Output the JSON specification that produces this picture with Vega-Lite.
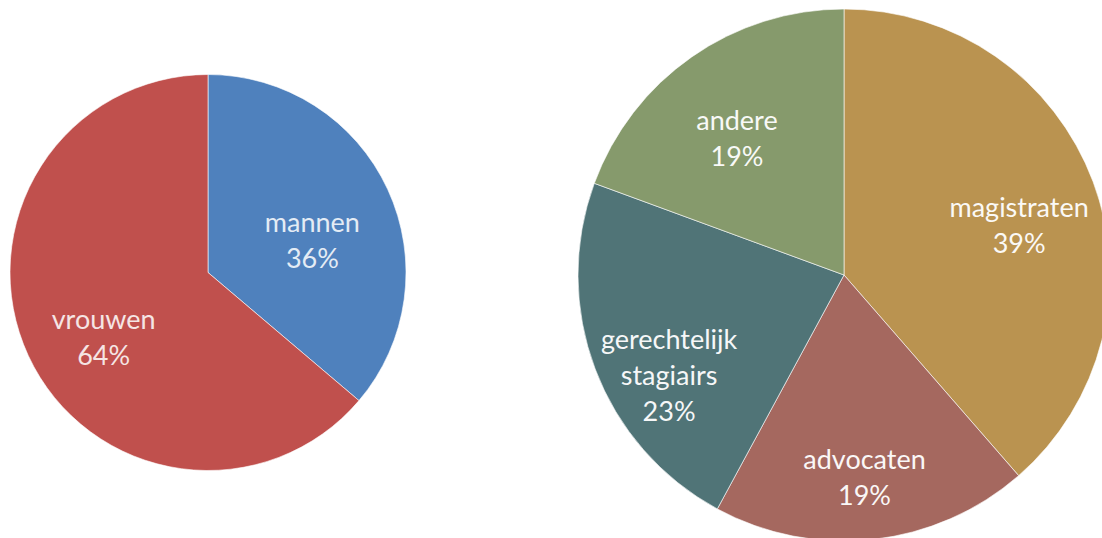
{
  "$schema": "https://vega.github.io/schema/vega-lite/v6.json",
  "background": "#ffffff",
  "padding": 0,
  "spacing": 160,
  "config": {"view": {"stroke": null}},
  "resolve": {"scale": {"color": "independent", "theta": "independent"}},
  "datasets": {
    "gender": [
      {"categorie": "mannen", "rank": 1, "value": 36.2, "label": "mannen\n36%"},
      {"categorie": "vrouwen", "rank": 2, "value": 63.8, "label": "vrouwen\n64%"}
    ],
    "beroep": [
      {"categorie": "magistraten", "rank": 1, "value": 38.6, "label": "magistraten\n39%"},
      {"categorie": "advocaten", "rank": 2, "value": 19.3, "label": "advocaten\n19%"},
      {"categorie": "gerechtelijk stagiairs", "rank": 3, "value": 22.7, "label": "gerechtelijk\nstagiairs\n23%"},
      {"categorie": "andere", "rank": 4, "value": 19.4, "label": "andere\n19%"}
    ]
  },
  "hconcat": [
    {
      "width": 416,
      "height": 545,
      "data": {"name": "gender"},
      "encoding": {
        "theta": {"field": "value", "type": "quantitative", "stack": true},
        "order": {"field": "rank", "type": "quantitative"}
      },
      "layer": [
        {
          "mark": {"type": "arc", "outerRadius": 198, "stroke": "#ffffff", "strokeWidth": 0.6},
          "encoding": {
            "color": {
              "field": "categorie", "type": "nominal", "legend": null,
              "scale": {"domain": ["mannen", "vrouwen"], "range": ["#4F81BD", "#C0504D"]}
            }
          }
        },
        {
          "mark": {"type": "text", "radius": 115, "font": "Lato", "fontSize": 27, "lineBreak": "\n", "lineHeight": 36, "fill": "#ffffff", "opacity": 0.85},
          "encoding": {"text": {"field": "label", "type": "nominal"}}
        }
      ]
    },
    {
      "width": 532,
      "height": 550,
      "data": {"name": "beroep"},
      "encoding": {
        "theta": {"field": "value", "type": "quantitative", "stack": true},
        "order": {"field": "rank", "type": "quantitative"}
      },
      "layer": [
        {
          "mark": {"type": "arc", "outerRadius": 266, "stroke": "#ffffff", "strokeWidth": 0.6},
          "encoding": {
            "color": {
              "field": "categorie", "type": "nominal", "legend": null,
              "scale": {
                "domain": ["magistraten", "advocaten", "gerechtelijk stagiairs", "andere"],
                "range": ["#BA9350", "#A5685F", "#507477", "#869A6C"]
              }
            }
          }
        },
        {
          "mark": {"type": "text", "radius": 187, "font": "Lato", "fontSize": 27, "lineBreak": "\n", "lineHeight": 36, "fill": "#ffffff", "opacity": 0.95},
          "encoding": {"text": {"field": "label", "type": "nominal"}}
        }
      ]
    }
  ]
}
